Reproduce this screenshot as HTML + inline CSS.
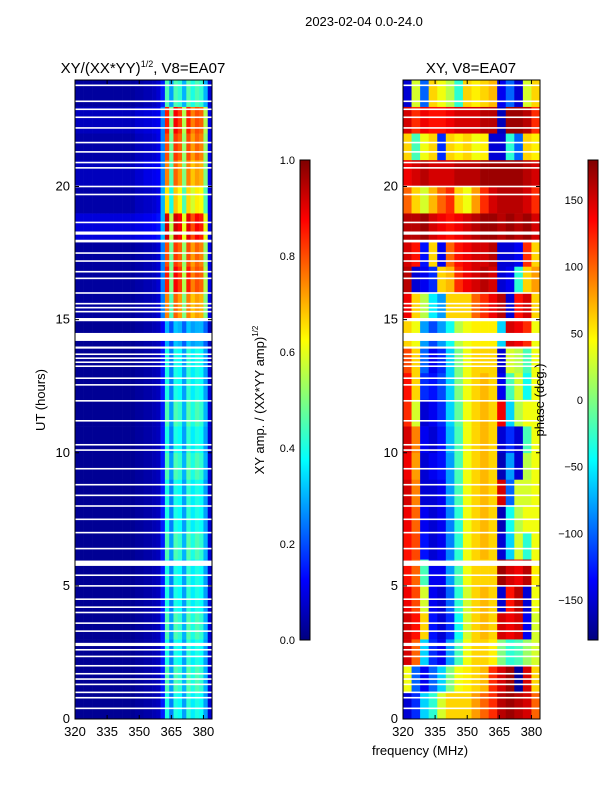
<!DOCTYPE html>
<html><head><meta charset="utf-8">
<style>
html,body{margin:0;padding:0;background:#fff;}
svg text{font-family:"Liberation Sans",sans-serif;fill:#000;}
</style></head>
<body>
<svg id="fig" width="600" height="800" viewBox="0 0 600 800" xmlns="http://www.w3.org/2000/svg">
<defs>
<linearGradient id="jet" x1="0" y1="1" x2="0" y2="0">
<stop offset="0" stop-color="#00007f"/><stop offset="0.125" stop-color="#0000ff"/>
<stop offset="0.375" stop-color="#00ffff"/><stop offset="0.5" stop-color="#7fff7f"/>
<stop offset="0.625" stop-color="#ffff00"/><stop offset="0.875" stop-color="#ff0000"/>
<stop offset="1" stop-color="#7f0000"/>
</linearGradient>
</defs>
<text x="364" y="26" font-size="13" text-anchor="middle">2023-02-04 0.0-24.0</text>
<text x="143" y="73" font-size="15" text-anchor="middle">XY/(XX*YY)<tspan font-size="9" dy="-6">1/2</tspan><tspan dy="6">, V8=EA07</tspan></text>
<text x="471" y="73" font-size="15" text-anchor="middle">XY, V8=EA07</text>
<g id="ampPanel"></g>
<g id="phPanel"></g>
<g id="axes"></g>
<text transform="translate(45,400) rotate(-90)" font-size="13" text-anchor="middle">UT (hours)</text>
<text x="420" y="755" font-size="13" text-anchor="middle">frequency (MHz)</text>
<rect x="300" y="160" width="10" height="480" fill="url(#jet)" stroke="#000" stroke-width="1"/>
<rect x="588" y="160" width="10" height="480" fill="url(#jet)" stroke="#000" stroke-width="1"/>
<text transform="translate(264,400) rotate(-90)" font-size="13" text-anchor="middle">XY amp. / (XX*YY amp)<tspan font-size="8" dy="-6">1/2</tspan></text>
<text transform="translate(544,400) rotate(-90)" font-size="13" text-anchor="middle">phase (deg.)</text>
</svg>
<script>
// ---- data ----
const hours = [0,1,2,3,4,5,6,7,8,9,10,11,12,13,14,15,16,17,18,19,20,21,22,23];
const ampFreqStart = 320, ampFreqStep = 2;
const phFreqStart = 320, phFreqStep = 4;
const ampRows = [
[2,2,2,2,2,2,2,2,2,2,2,2,2,2,3,3,4,4,5,6,15,40,25,40,38,28,42,36,40,38,28,8],
[2,2,2,2,2,2,2,2,2,2,2,2,2,2,3,3,4,4,5,6,15,45,28,45,42,30,46,40,45,42,30,8],
[2,2,2,2,2,2,2,2,2,2,2,2,2,2,3,3,4,4,5,6,15,40,25,40,38,28,42,36,40,38,28,8],
[2,2,2,2,2,2,2,2,2,2,2,2,2,2,3,3,4,4,5,6,15,45,28,45,42,30,46,40,45,42,30,8],
[2,2,2,2,2,2,2,2,2,2,2,2,2,2,3,3,4,4,5,6,15,40,25,40,38,28,42,36,40,38,28,8],
[2,2,2,2,2,2,2,2,2,2,2,2,2,2,3,3,4,4,5,6,15,40,25,40,38,28,42,36,40,38,28,8],
[2,2,2,2,2,2,2,2,2,2,2,2,2,2,3,3,4,4,5,6,15,45,28,45,42,30,46,40,45,42,30,8],
[2,2,2,2,2,2,2,2,2,2,2,2,2,2,3,3,4,4,5,6,15,40,25,40,38,28,42,36,40,38,28,8],
[2,2,2,2,2,2,2,2,2,2,2,2,2,2,3,3,4,4,5,6,15,40,25,40,38,28,42,36,40,38,28,8],
[2,2,2,2,2,2,2,2,2,2,2,2,2,2,3,3,4,4,5,6,15,45,28,45,42,30,46,40,45,42,30,8],
[2,2,2,2,2,2,2,2,2,2,2,2,2,2,3,3,4,4,5,6,15,40,25,40,38,28,42,36,40,38,28,8],
[2,2,2,2,2,2,2,2,2,2,2,2,2,2,3,3,4,4,5,6,15,45,28,45,42,30,46,40,45,42,30,8],
[2,2,2,2,2,2,2,2,2,2,2,2,2,2,3,3,4,4,5,6,15,40,25,40,38,28,42,36,40,38,28,8],
[2,2,2,2,2,2,2,2,2,2,2,2,2,2,3,3,4,4,5,6,15,40,25,40,38,28,42,36,40,38,28,8],
[2,2,2,2,2,2,2,2,2,2,2,2,2,2,3,3,4,4,5,6,12,30,20,32,30,22,32,28,30,30,22,6],
[3,3,3,3,3,3,3,3,3,3,3,3,3,3,4,4,5,5,6,8,25,75,45,78,72,50,75,68,72,70,50,10],
[3,3,3,3,3,3,3,3,3,3,3,3,3,3,4,4,5,5,6,8,25,85,50,88,82,55,85,75,80,78,55,10],
[3,3,3,3,3,3,3,3,3,3,3,3,3,3,4,4,5,5,6,8,25,80,48,82,78,52,80,72,78,75,52,10],
[9,9,9,9,9,9,9,9,9,9,9,9,9,9,10,10,11,11,12,14,30,92,55,92,88,60,90,80,88,85,60,10],
[4,4,4,4,4,4,4,4,4,4,4,4,4,4,6,6,7,7,8,10,30,65,40,68,62,45,66,58,64,62,45,10],
[6,6,6,6,6,6,6,6,6,6,6,6,6,6,8,8,10,10,11,12,25,75,45,78,72,50,75,68,72,70,50,10],
[4,4,4,4,4,4,4,4,4,4,4,4,4,4,6,6,7,7,8,10,25,80,48,82,78,52,80,72,78,75,52,10],
[6,6,6,6,6,6,6,6,6,6,6,6,6,6,8,8,9,9,10,11,25,85,50,88,82,55,85,75,80,78,55,10],
[3,3,3,3,3,3,3,3,3,3,3,3,3,3,4,4,5,5,6,8,15,45,28,45,42,30,46,40,45,42,30,8]
];
const phaseRows = [
[-150,-120,-60,-30,30,60,60,60,80,100,120,160,170,160,150,100],
[40,-100,-140,-100,-60,0,40,50,60,70,120,150,170,-170,150,60],
[150,100,-60,-120,-140,-80,-20,40,60,60,50,0,-30,-20,10,30],
[150,130,60,-130,-150,-120,-40,30,60,70,60,150,140,150,-140,30],
[140,110,30,-140,-150,-100,-30,30,60,70,60,-150,130,160,-150,40],
[130,100,-20,-140,-140,-80,-20,40,60,60,60,170,150,140,160,50],
[130,110,-130,-150,-140,-90,-30,40,60,70,60,-150,-60,30,-30,40],
[140,100,-140,-150,-140,-90,-30,40,60,70,60,-160,-40,20,40,40],
[150,90,-150,-150,-140,-80,-20,40,60,70,60,150,-100,30,30,40],
[140,80,-150,-140,-130,-80,-20,40,60,70,60,-160,-80,-150,20,40],
[150,90,-140,-150,-130,-70,-20,40,60,70,60,-150,-120,-150,-20,40],
[120,30,-150,-140,-120,-60,-10,40,60,70,60,140,-60,20,40,40],
[130,60,-120,-130,-110,-60,0,40,60,70,60,-140,-20,30,-40,40],
[110,60,-100,-140,-120,-60,0,40,60,60,60,-150,30,20,-20,40],
[60,40,-80,-110,-80,-40,20,40,50,50,50,-60,150,140,120,40],
[140,60,20,-50,-80,60,60,60,100,120,140,160,-150,130,150,60],
[160,-150,-140,-120,60,70,120,140,150,160,150,-150,-140,-30,60,80],
[150,130,-130,60,-140,100,130,140,150,150,160,-150,-150,-140,120,60],
[160,160,170,150,140,130,140,150,160,170,170,160,170,160,170,150],
[100,60,30,70,100,120,60,40,80,120,150,160,160,160,150,120],
[140,150,160,150,150,150,160,160,160,170,170,170,170,170,160,150],
[60,-20,40,60,-120,60,50,60,40,50,-150,-150,-30,-100,60,50],
[150,120,140,130,130,140,150,150,150,160,160,-160,170,170,160,120],
[-150,30,-100,60,40,20,-30,60,50,60,70,-140,-100,-150,30,60]
];
const gapTimes = [0.4,0.8,1.0,1.3,1.5,1.7,2.0,2.35,2.6,2.8,3.3,3.6,4.0,4.2,4.5,5.0,5.4,5.85,6.4,7.0,7.5,8.0,8.4,8.8,9.4,10.1,10.3,11.2,11.95,12.55,12.8,13.25,13.4,13.55,13.7,13.95,14.35,15.0,15.3,15.45,15.6,16.0,16.55,16.8,17.2,17.5,17.95,18.25,18.65,19.7,20.0,20.7,20.9,21.3,21.65,22.2,22.6,22.9,23.2,23.8];
const gapWidths = [0.06,0.06,0.06,0.06,0.06,0.06,0.06,0.06,0.06,0.12,0.06,0.06,0.06,0.06,0.06,0.06,0.06,0.2,0.06,0.06,0.06,0.06,0.06,0.06,0.06,0.06,0.06,0.06,0.06,0.06,0.06,0.06,0.06,0.06,0.06,0.08,0.3,0.12,0.06,0.06,0.06,0.06,0.06,0.06,0.06,0.06,0.1,0.12,0.06,0.06,0.06,0.06,0.06,0.06,0.06,0.06,0.06,0.06,0.06,0.06];
const yTicks = [0,5,10,15,20];
const xTicks = [320,335,350,365,380];
const ampCbTicks = ["0.0","0.2","0.4","0.6","0.8","1.0"];
const phCbTicks = [-150,-100,-50,0,50,100,150];

// ---- scales ----
const NS = "http://www.w3.org/2000/svg";
const panels = [{x0:75,x1:212},{x0:403,x1:540}];
const yTop = 80, yBot = 719, fMin = 320, fMax = 384;
function yScale(h){ return yBot - (h/24)*(yBot-yTop); }
function xScale(p,f){ return p.x0 + (f-fMin)/(fMax-fMin)*(p.x1-p.x0); }
function jet(v){
  v = Math.max(0,Math.min(1,v));
  const c = t => Math.round(255*Math.max(0,Math.min(1,t)));
  return `rgb(${c(1.5-Math.abs(4*v-3))},${c(1.5-Math.abs(4*v-2))},${c(1.5-Math.abs(4*v-1))})`;
}
function mk(tag, attrs, parent){
  const e = document.createElementNS(NS, tag);
  for (const k in attrs) e.setAttribute(k, attrs[k]);
  parent.appendChild(e); return e;
}
function drawGrid(g, p, rows, fStart, fStep, norm){
  rows.forEach((row, i) => {
    const h = hours[i];
    row.forEach((v, j) => {
      const f = fStart + j*fStep;
      const xa = xScale(p,f), xb = xScale(p,Math.min(f+fStep,fMax));
      const r = mk('rect',{x:xa,y:yScale(h+1),width:xb-xa+0.3,height:yScale(h)-yScale(h+1)+0.3,fill:jet(norm(v))},g);
      
      
    });
  });
  gapTimes.forEach((t, k) => {
    const w = gapWidths[k];
    const r = mk('rect',{x:p.x0,y:yScale(t+w/2),width:p.x1-p.x0,height:Math.max(1.2,yScale(t-w/2)-yScale(t+w/2)),fill:'#fff'},g);
    
    
  });
}
drawGrid(document.getElementById('ampPanel'), panels[0], ampRows, ampFreqStart, ampFreqStep, v => v/100);
drawGrid(document.getElementById('phPanel'), panels[1], phaseRows, phFreqStart, phFreqStep, v => (v+180)/360);

// ---- axes ----
const ax = document.getElementById('axes');
panels.forEach((p, pi) => {
  const fr = mk('rect',{x:p.x0,y:yTop,width:p.x1-p.x0,height:yBot-yTop,fill:'none',stroke:'#000','stroke-width':1},ax);
  
  
  yTicks.forEach(t => {
    const y = yScale(t);
    mk('line',{x1:p.x0,x2:p.x0+4,y1:y,y2:y,stroke:'#000'},ax);
    mk('line',{x1:p.x1,x2:p.x1-4,y1:y,y2:y,stroke:'#000'},ax);
    const tx = mk('text',{x:p.x0-5,y:y+4,'font-size':13,'text-anchor':'end'},ax);
    tx.textContent = t;
    
    
  });
  xTicks.forEach(t => {
    const x = xScale(p,t);
    mk('line',{x1:x,x2:x,y1:yBot,y2:yBot-4,stroke:'#000'},ax);
    mk('line',{x1:x,x2:x,y1:yTop,y2:yTop+4,stroke:'#000'},ax);
    const tx = mk('text',{x:x,y:yBot+17,'font-size':13,'text-anchor':'middle'},ax);
    tx.textContent = t;
    
    
  });
});
ampCbTicks.forEach((t, i) => {
  const y = 640 - i*96;
  mk('line',{x1:300,x2:310,y1:y,y2:y,stroke:'#000'},ax);
  const tx = mk('text',{x:295,y:y+4,'font-size':11,'text-anchor':'end'},ax);
  tx.textContent = t;
  
  
});
phCbTicks.forEach(t => {
  const y = 400 - t*(480/360);
  mk('line',{x1:588,x2:598,y1:y,y2:y,stroke:'#000'},ax);
  const tx = mk('text',{x:583,y:y+4,'font-size':11,'text-anchor':'end'},ax);
  tx.textContent = t < 0 ? '\u2212' + Math.abs(t) : t;
  
  
});
</script>
</body></html>
